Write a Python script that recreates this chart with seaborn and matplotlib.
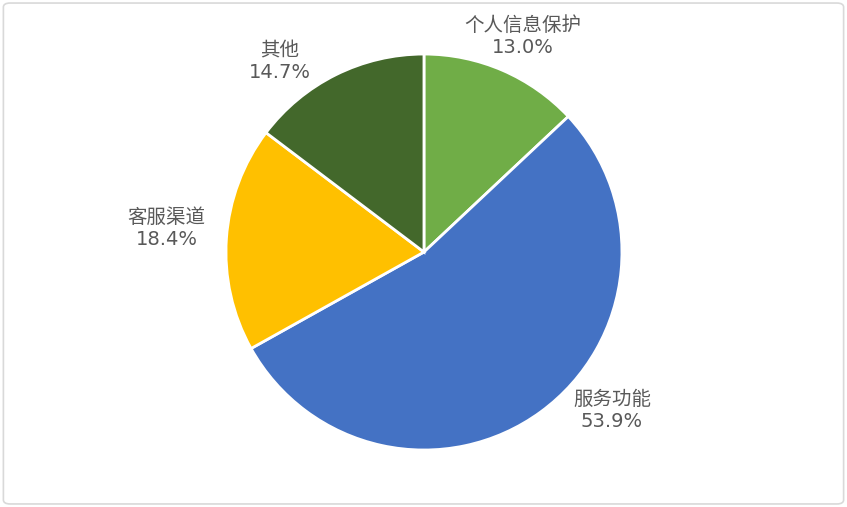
import matplotlib
matplotlib.use("Agg")
import matplotlib.pyplot as plt
import seaborn as sns
from matplotlib.patches import FancyBboxPatch

# data
categories = ["个人信息保护", "服务功能", "客服渠道", "其他"]
shares = [13.0, 53.9, 18.4, 14.7]
colors = ["#70AD47", "#4472C4", "#FFC000", "#43682B"]

# label positions (in pie-radius units)
label_pos = [(0.50, 1.09), (0.95, -0.80), (-1.30, 0.12), (-0.73, 0.96)]

sns.set_theme(style="white")
plt.rcParams['font.family'] = ['DejaVu Sans', 'Noto Sans CJK SC']

fig = plt.figure(figsize=(8.47, 5.07), dpi=100)
ax = fig.add_axes([0.2668, 0.1124, 0.4675, 0.781])

pal = sns.color_palette(colors)
ax.pie(shares, colors=pal, startangle=90, counterclock=False,
       wedgeprops=dict(edgecolor="white", linewidth=2))
ax.set_xlim(-1, 1)
ax.set_ylim(-1, 1)
ax.set_aspect("equal")

for name, val, (x, y) in zip(categories, shares, label_pos):
    ax.text(x, y, f"{name}\n{val:.1f}%", ha="center", va="center",
            fontsize=14, color="#595959", linespacing=1.2, clip_on=False)

# outer frame
frame = FancyBboxPatch((0.004, 0.006), 0.992, 0.988, transform=fig.transFigure,
                       boxstyle="round,pad=0,rounding_size=0.008",
                       facecolor="none", edgecolor="#D9D9D9", linewidth=1.2)
fig.patches.append(frame)

fig.savefig("out.png", dpi=100)
